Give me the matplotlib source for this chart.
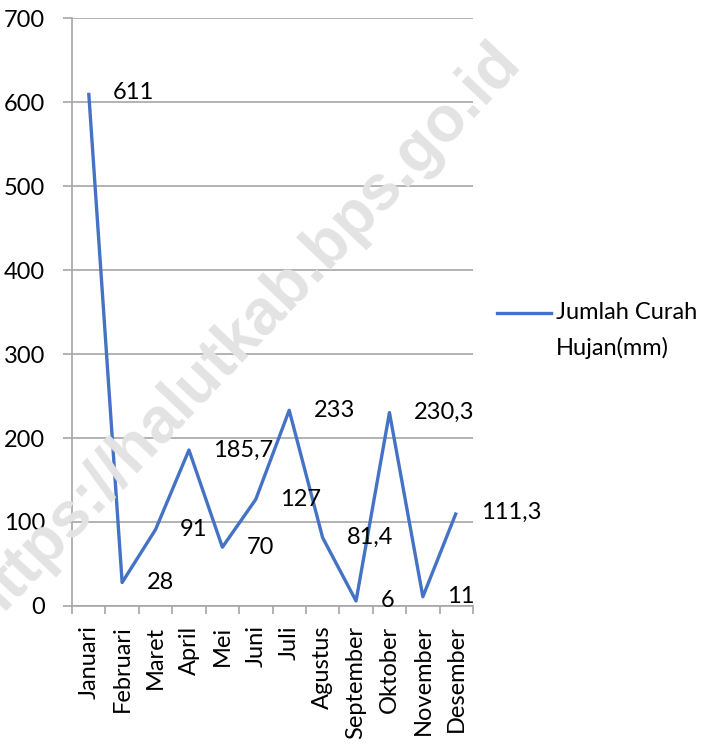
import matplotlib
matplotlib.use("Agg")
import matplotlib.pyplot as plt
from matplotlib.lines import Line2D

months = ["Januari", "Februari", "Maret", "April", "Mei", "Juni", "Juli",
          "Agustus", "September", "Oktober", "November", "Desember"]
values = [611, 28, 91, 185.7, 70, 127, 233, 81.4, 6, 230.3, 11, 111.3]
value_labels = ["611", "28", "91", "185,7", "70", "127", "233", "81,4", "6", "230,3", "11", "111,3"]
yticks = [0, 100, 200, 300, 400, 500, 600, 700]

plt.rcParams['font.family'] = ['Lato', 'DejaVu Sans']
FS = 17
GRAY = "#a6a6a6"
BLUE = "#4472c4"

fig = plt.figure(figsize=(7.05, 7.44), dpi=100)
ax = fig.add_axes([72/705, 1-606/744, (473-72)/705, (606-18)/744])

# watermark
fig.text(510/705, 1-52/744, "https://halutkab.bps.go.id", rotation=46.5,
         rotation_mode='anchor', ha='right', va='center', fontsize=46,
         fontweight='bold', family='Liberation Sans', color='#e3e3e3', zorder=0)
ax.set_facecolor('none')

x = list(range(len(months)))
ax.plot(x, values, color=BLUE, lw=2.4, solid_capstyle='butt', zorder=3)
for xi, v, lab in zip(x, values, value_labels):
    ax.annotate(lab, (xi, v), xytext=(17.5, 0), textcoords='offset points',
                ha='left', va='center', fontsize=FS, color='black', zorder=4,
                annotation_clip=False)

ax.set_xlim(-0.5, len(months) - 0.5)
ax.set_ylim(0, 700)
ax.set_yticks(yticks)
ax.set_yticklabels([str(t) for t in yticks], fontsize=FS)
ax.set_xticks(x)
ax.set_xticklabels(months, rotation=90, fontsize=FS, va='top', ha='center')
ax.set_xticks([i - 0.5 for i in range(len(months) + 1)], minor=True)

ax.yaxis.grid(True, color=GRAY, lw=1.2, zorder=1)
ax.set_axisbelow(True)
for s in ['top', 'right']:
    ax.spines[s].set_visible(False)
for s in ['left', 'bottom']:
    ax.spines[s].set_color(GRAY)
    ax.spines[s].set_linewidth(1.2)

ax.tick_params(axis='y', length=6.5, color=GRAY, width=1.2, pad=13)
ax.tick_params(axis='x', which='major', length=0, pad=14)
ax.tick_params(axis='x', which='minor', length=6, color=GRAY, width=1.2)

# legend
fig.add_artist(Line2D([497/705, 551/705], [1-313/744, 1-313/744],
                      transform=fig.transFigure, color=BLUE, lw=2.4))
fig.text(556/705, 1-313/744, "Jumlah Curah", fontsize=FS, ha='left', va='center')
fig.text(556/705, 1-348/744, "Hujan(mm)", fontsize=FS, ha='left', va='center')

fig.savefig("out.png", dpi=100)
